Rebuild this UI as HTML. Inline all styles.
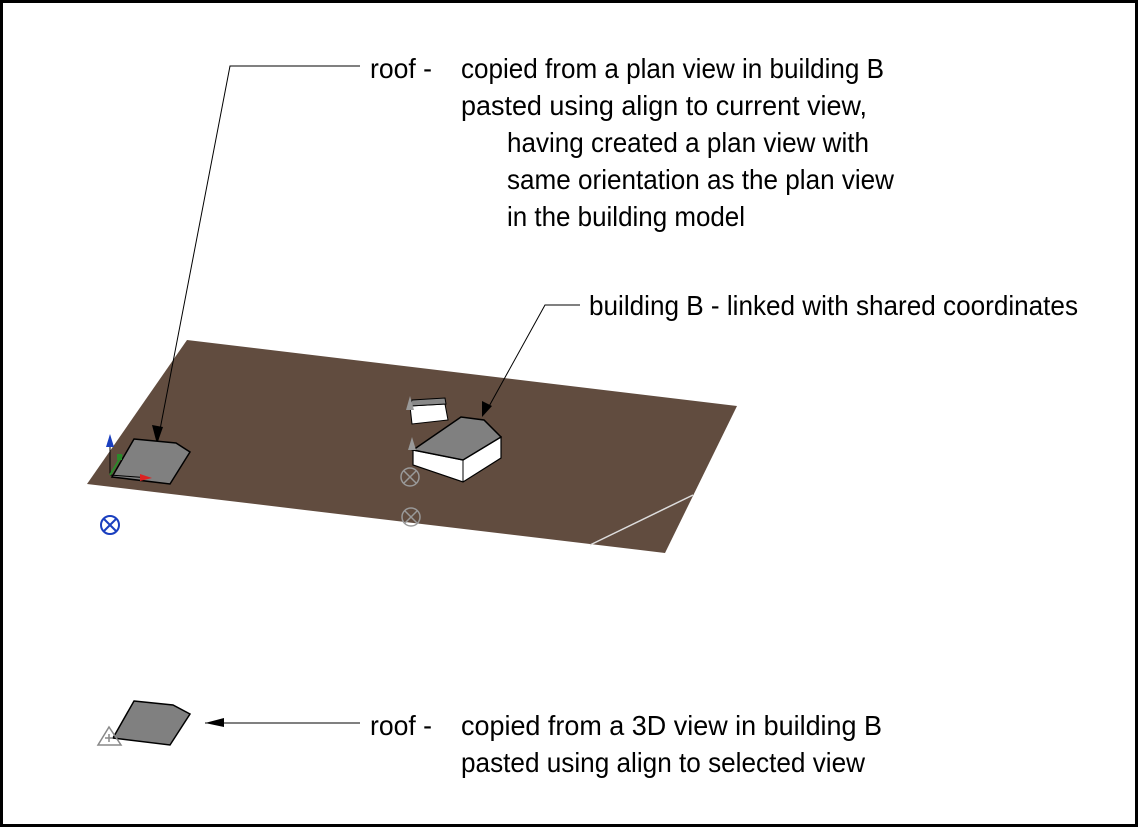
<!DOCTYPE html>
<html><head><style>
html,body{margin:0;padding:0;background:#fff;}
svg{display:block;}
text{font-family:"Liberation Sans",sans-serif;font-size:28px;fill:#000;}
</style></head><body>
<svg width="1138" height="827" viewBox="0 0 1138 827" xmlns="http://www.w3.org/2000/svg">
<rect x="1.5" y="1.5" width="1135" height="824" fill="#fff" stroke="#000" stroke-width="3"/>
<polygon points="187,340 737,406 665,553 87,484" fill="#614c3f"/>
<line x1="590" y1="545" x2="693" y2="495" stroke="#ddd" stroke-width="1.5"/>
<polyline points="360,66 230,66 158,440" fill="none" stroke="#000" stroke-width="1"/>
<polygon points="152,425 163,427 157,444" fill="#000"/>
<polyline points="580,305 545,305 487,410" fill="none" stroke="#000" stroke-width="1"/>
<polygon points="482,401 492,406 482,417" fill="#000"/>
<polygon points="134,439 176,443 190,452 170,484 112,477" fill="#808080" stroke="#000" stroke-width="1.5"/>
<line x1="110" y1="440" x2="110" y2="475" stroke="#000" stroke-width="1"/>
<polygon points="106,447 110,434 114,447" fill="#1a3fbf"/>
<line x1="110" y1="475" x2="150" y2="478" stroke="#000" stroke-width="1"/>
<polygon points="140,474 152,478 140,481" fill="#d22"/>
<line x1="110" y1="475" x2="122" y2="455" stroke="#2a8a2a" stroke-width="2"/>
<rect x="117" y="454" width="5" height="6" fill="#2a8a2a"/>
<polygon points="410,406 445,404 448,420 412,424" fill="#fff" stroke="#000" stroke-width="1"/>
<polygon points="412,400 445,398 446,404 410,406" fill="#888" stroke="#000" stroke-width="1"/>
<polygon points="406,410 410,396 414,410" fill="#999"/>
<polygon points="413,450 413,465 463,482 501,458 501,437 463,460" fill="#fff" stroke="#000" stroke-width="1.2"/>
<polygon points="413,450 461,417 484,420 501,437 463,460" fill="#808080" stroke="#000" stroke-width="1.5"/>
<line x1="463" y1="460" x2="463" y2="482" stroke="#000" stroke-width="1"/>
<polygon points="408,450 412,437 416,450" fill="#999"/>
<g fill="none" stroke="#999" stroke-width="1.5">
<circle cx="410" cy="477" r="9"/><line x1="404" y1="471" x2="416" y2="483"/><line x1="416" y1="471" x2="404" y2="483"/>
<circle cx="411" cy="517" r="9"/><line x1="405" y1="511" x2="417" y2="523"/><line x1="417" y1="511" x2="405" y2="523"/>
</g>
<g fill="none" stroke="#1a3fbf" stroke-width="2">
<circle cx="110" cy="525" r="9"/><line x1="104" y1="519" x2="116" y2="531"/><line x1="116" y1="519" x2="104" y2="531"/>
</g>
<polygon points="134,701 173,705 190,714 170,745 113,738" fill="#808080" stroke="#000" stroke-width="1.5"/>
<polygon points="109,727 98,745 121,745" fill="none" stroke="#888" stroke-width="1.5"/>
<line x1="105" y1="738" x2="113" y2="738" stroke="#888" stroke-width="1.5"/>
<line x1="109" y1="734" x2="109" y2="742" stroke="#888" stroke-width="1.5"/>
<line x1="205" y1="723" x2="360" y2="723" stroke="#000" stroke-width="1"/>
<polygon points="205,723 224,718 224,727" fill="#000"/>
<g>
<text x="370" y="78" textLength="62" lengthAdjust="spacingAndGlyphs">roof -</text>
<text x="461" y="78" textLength="423" lengthAdjust="spacingAndGlyphs">copied from a plan view in building B</text>
<text x="461" y="115" textLength="406" lengthAdjust="spacingAndGlyphs">pasted using align to current view,</text>
<text x="507" y="152" textLength="362" lengthAdjust="spacingAndGlyphs">having created a plan view with</text>
<text x="507" y="189" textLength="387" lengthAdjust="spacingAndGlyphs">same orientation as the plan view</text>
<text x="507" y="226" textLength="238" lengthAdjust="spacingAndGlyphs">in the building model</text>
<text x="589" y="315" textLength="489" lengthAdjust="spacingAndGlyphs">building B - linked with shared coordinates</text>
<text x="370" y="735" textLength="62" lengthAdjust="spacingAndGlyphs">roof -</text>
<text x="461" y="735" textLength="421" lengthAdjust="spacingAndGlyphs">copied from a 3D view in building B</text>
<text x="461" y="772" textLength="404" lengthAdjust="spacingAndGlyphs">pasted using align to selected view</text>
</g>
</svg>
</body></html>
